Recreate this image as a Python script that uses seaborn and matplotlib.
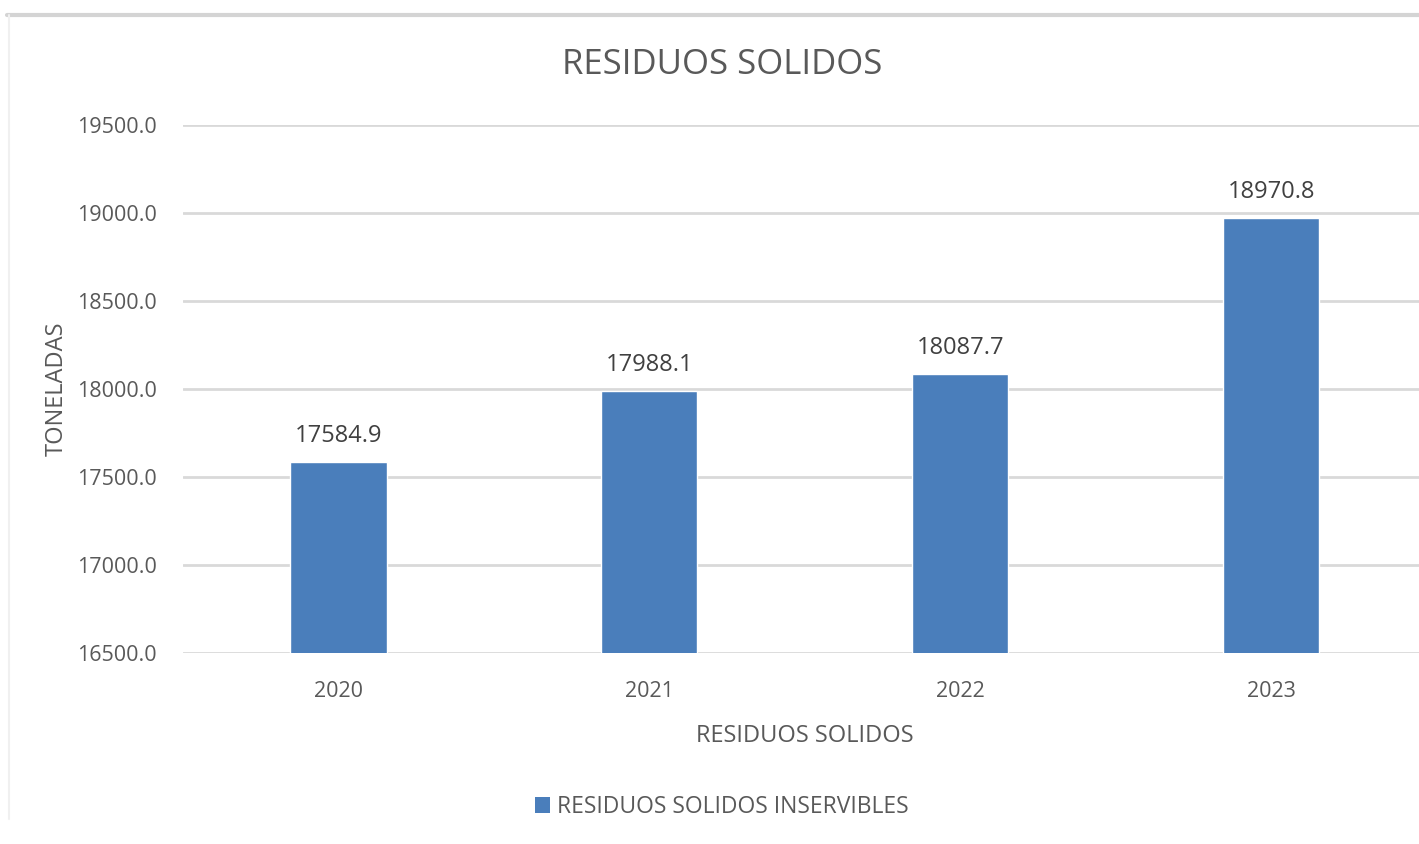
import matplotlib
matplotlib.use("Agg")
import matplotlib.pyplot as plt
from matplotlib.lines import Line2D
from matplotlib.patches import Patch
import seaborn as sns
import pandas as pd

years = ["2020", "2021", "2022", "2023"]
toneladas = [17584.9, 17988.1, 18087.7, 18970.8]
series_name = "RESIDUOS SOLIDOS INSERVIBLES"
title = "RESIDUOS SOLIDOS"
x_label = "RESIDUOS SOLIDOS"
y_label = "TONELADAS"
y_ticks = [16500, 17000, 17500, 18000, 18500, 19000, 19500]

bar_color = "#4a7ebb"
text_color = "#595959"
grid_color = "#d9d9d9"

sns.set_theme(style="white")
plt.rcParams["font.family"] = ["Open Sans", "DejaVu Sans"]

df = pd.DataFrame({"year": years, "value": toneladas})

W, H = 1419, 844
fig = plt.figure(figsize=(W / 100, H / 100), dpi=100)
fig.patch.set_facecolor("white")

left, right = 183 / W, 1426.5 / W
bottom, top = 1 - 653 / H, 1 - 125 / H
ax = fig.add_axes([left, bottom, right - left, top - bottom])

sns.barplot(data=df, x="year", y="value", color=bar_color, width=0.31,
            saturation=1, ax=ax, zorder=3)
ax.set_xlim(-0.5, 3.5)
ax.set_ylim(16500, 19500)
ax.set_yticks(y_ticks)
ax.set_yticklabels([f"{v:.1f}" for v in y_ticks])
ax.yaxis.grid(True, color=grid_color, linewidth=2, zorder=0)
ax.set_axisbelow(True)
for s in ax.spines.values():
    s.set_visible(False)
ax.tick_params(axis="both", length=0, labelsize=15.5, colors=text_color)
ax.tick_params(axis="y", pad=19)
ax.tick_params(axis="x", pad=20)

for i, v in enumerate(toneladas):
    ax.annotate(f"{v:.1f}", (i, v), xytext=(0, 10), textcoords="offset points",
                ha="center", va="bottom", fontsize=17, color="#404040")

ax.set_xlabel(x_label, fontsize=17, color=text_color, labelpad=16)
ax.set_ylabel(y_label, fontsize=17, color=text_color, labelpad=6)

fig.text(722 / W, 1 - 65 / H, title, ha="center", va="center",
         fontsize=25, color=text_color)

handle = Patch(facecolor=bar_color, edgecolor="none")
fig.legend([handle], [series_name], loc="center", bbox_to_anchor=(722 / W, 1 - 807 / H),
           frameon=False, fontsize=16.5, labelcolor=text_color,
           handlelength=0.65, handleheight=0.65, handletextpad=0.3)

# outer frame edges of the chart area
fig.add_artist(Line2D([7 / W, 1], [1 - 15 / H, 1 - 15 / H], color="#d4d4d4",
                      linewidth=3, transform=fig.transFigure))
fig.add_artist(Line2D([9 / W, 9 / W], [0.03, 1 - 15 / H], color="#f0f0f0",
                      linewidth=1.5, transform=fig.transFigure))

fig.savefig("out.png", dpi=100)
